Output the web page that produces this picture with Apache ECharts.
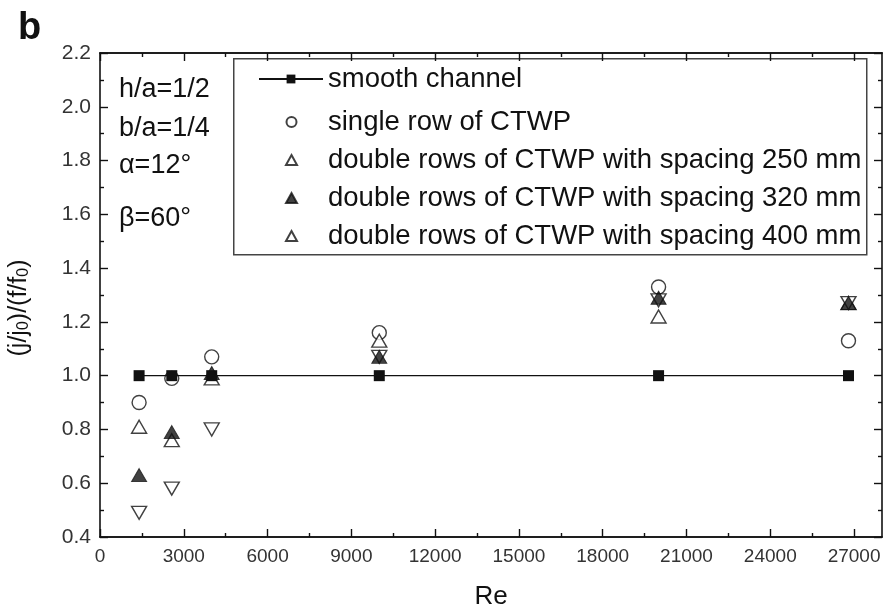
<!DOCTYPE html>
<html>
<head>
<meta charset="utf-8">
<script src="https://cdn.jsdelivr.net/npm/echarts@6/dist/echarts.min.js"></script>
<style>
  html, body { margin: 0; padding: 0; background: #fff; }
  #chart { width: 888px; height: 611px; }
</style>
</head>
<body>
<div id="chart"></div>
<script>
// Reynolds numbers of the measurement stations
const reValues = [1400, 2570, 4000, 10000, 20000, 26800];

// Performance ratio (j/j0)/(f/f0) per configuration
const smoothChannel = [1.0, 1.0, 1.0, 1.0, 1.0, 1.0];
const singleRow = [0.90, 0.99, 1.07, 1.16, 1.33, 1.13];
const double250 = [0.81, 0.76, 0.99, 1.13, 1.22, 1.27];
const double320 = [0.63, 0.79, 1.01, 1.07, 1.29, 1.27];
const double400 = [0.49, 0.58, 0.80, 1.07, 1.28, 1.27];

const seriesNames = [
  'smooth channel',
  'single row of CTWP',
  'double rows of CTWP with spacing 250 mm',
  'double rows of CTWP with spacing 320 mm',
  'double rows of CTWP with spacing 400 mm'
];

// Axis ticks
const xMajorTicks = [0, 3000, 6000, 9000, 12000, 15000, 18000, 21000, 24000, 27000];
const xMinorTicks = [1500, 4500, 7500, 10500, 13500, 16500, 19500, 22500, 25500];

const FONT = '"Liberation Sans", Arial, sans-serif';
const INK = '#111';

function pairs(ys) {
  return reValues.map((x, i) => [x, ys[i]]);
}

const chart = echarts.init(document.getElementById('chart'), null, { renderer: 'canvas' });

const axisLine = { show: true, onZero: false, lineStyle: { color: INK, width: 1.6 } };

function xAxisDef(pos, ticks, len, withLabels) {
  return {
    type: 'value',
    position: pos,
    min: 0,
    max: 28000,
    interval: 3000,
    axisLine: axisLine,
    axisTick: { show: true, inside: true, length: len, customValues: ticks, lineStyle: { color: INK, width: 1.4 } },
    axisLabel: withLabels ? {
      show: true, showMaxLabel: false, margin: 10,
      fontFamily: FONT, fontSize: 19, color: '#333',
      formatter: v => String(v)
    } : { show: false },
    splitLine: { show: false },
    name: withLabels ? 'Re' : '',
    nameLocation: 'middle',
    nameGap: 47,
    nameTextStyle: { fontFamily: FONT, fontSize: 26, color: INK }
  };
}

function yAxisDef(pos, withLabels) {
  return {
    type: 'value',
    position: pos,
    min: 0.4,
    max: 2.2,
    interval: 0.2,
    axisLine: axisLine,
    axisTick: { show: true, inside: true, length: 8, lineStyle: { color: INK, width: 1.4 } },
    minorTick: { show: true, splitNumber: 2, length: 4, lineStyle: { color: INK, width: 1.4 } },
    axisLabel: withLabels ? {
      show: true, margin: 9, fontFamily: FONT, fontSize: 21, color: '#333',
      formatter: v => v.toFixed(1)
    } : { show: false },
    splitLine: { show: false },
    minorSplitLine: { show: false },
    name: withLabels ? '(j/j{s|0})/(f/f{s|0})' : '',
    nameLocation: 'middle',
    nameGap: 68,
    nameRotate: 90,
    nameTextStyle: {
      fontFamily: FONT, fontSize: 25, color: INK,
      padding: [0, 26, 0, 0],
      rich: { s: { fontFamily: FONT, fontSize: 16, color: INK, verticalAlign: 'bottom', padding: [9, 0, 0, 0] } }
    }
  };
}

const openStyle = { color: '#fff', borderColor: INK, borderWidth: 1.4 };
const filledStyle = { color: INK, borderColor: INK, borderWidth: 1 };

const legendText = { fontFamily: FONT, fontSize: 27.5, color: INK, lineHeight: 26 };

const option = {
  backgroundColor: '#fff',
  animation: false,
  title: {
    text: 'b', left: 13, top: 5,
    textStyle: { fontFamily: FONT, fontSize: 38, fontWeight: 'bold', color: INK }
  },
  grid: { left: 100, right: 6, top: 53, bottom: 74, containLabel: false, outerBoundsMode: 'none' },
  xAxis: [
    xAxisDef('bottom', xMajorTicks, 8, true),
    xAxisDef('top', xMajorTicks, 8, false),
    xAxisDef('bottom', xMinorTicks, 4, false),
    xAxisDef('top', xMinorTicks, 4, false)
  ],
  yAxis: [yAxisDef('left', true), yAxisDef('right', false)],
  legend: [
    {
      // line entry: line with centred square
      orient: 'vertical',
      left: 258,
      top: 65,
      padding: 0,
      itemWidth: 64,
      itemHeight: 11,
      selectedMode: false,
      textStyle: legendText,
      data: [seriesNames[0]]
    },
    {
      // marker-only entries
      orient: 'vertical',
      left: 285,
      top: 108,
      padding: 0,
      itemWidth: 11,
      itemHeight: 10,
      itemGap: 10,
      selectedMode: false,
      textStyle: Object.assign({ padding: [0, 0, 0, 26] }, legendText),
      data: seriesNames.slice(1)
    }
  ],
  graphic: [
    {
      type: 'rect', left: 233, top: 58, z: -1,
      shape: { width: 633, height: 196 },
      style: { fill: '#fff', stroke: '#444', lineWidth: 1.5 }
    },
    { type: 'text', left: 119, top: 76, style: { text: 'h/a=1/2', font: '27px ' + FONT, fill: INK } },
    { type: 'text', left: 119, top: 115, style: { text: 'b/a=1/4', font: '27px ' + FONT, fill: INK } },
    { type: 'text', left: 119, top: 152, style: { text: 'α=12°', font: '27px ' + FONT, fill: INK } },
    { type: 'text', left: 119, top: 205, style: { text: 'β=60°', font: '27px ' + FONT, fill: INK } }
  ],
  series: [
    {
      name: seriesNames[0], type: 'line', xAxisIndex: 0, yAxisIndex: 0,
      data: pairs(smoothChannel), symbol: 'rect', symbolSize: 11,
      itemStyle: { color: INK }, lineStyle: { color: INK, width: 1.3 }, z: 4
    },
    {
      name: seriesNames[1], type: 'scatter', xAxisIndex: 0, yAxisIndex: 0,
      data: pairs(singleRow), symbol: 'circle', symbolSize: 14,
      itemStyle: openStyle, z: 3
    },
    {
      name: seriesNames[2], type: 'scatter', xAxisIndex: 0, yAxisIndex: 0,
      data: pairs(double250), symbol: 'triangle', symbolSize: [15, 13],
      itemStyle: openStyle, z: 3
    },
    {
      name: seriesNames[3], type: 'scatter', xAxisIndex: 0, yAxisIndex: 0,
      data: pairs(double320), symbol: 'triangle', symbolSize: [15, 13],
      itemStyle: filledStyle, z: 5
    },
    {
      name: seriesNames[4], type: 'scatter', xAxisIndex: 0, yAxisIndex: 0,
      data: pairs(double400), symbol: 'triangle', symbolRotate: 180, symbolSize: [15, 13],
      itemStyle: openStyle, z: 3
    }
  ]
};

chart.setOption(option);
</script>
</body>
</html>
